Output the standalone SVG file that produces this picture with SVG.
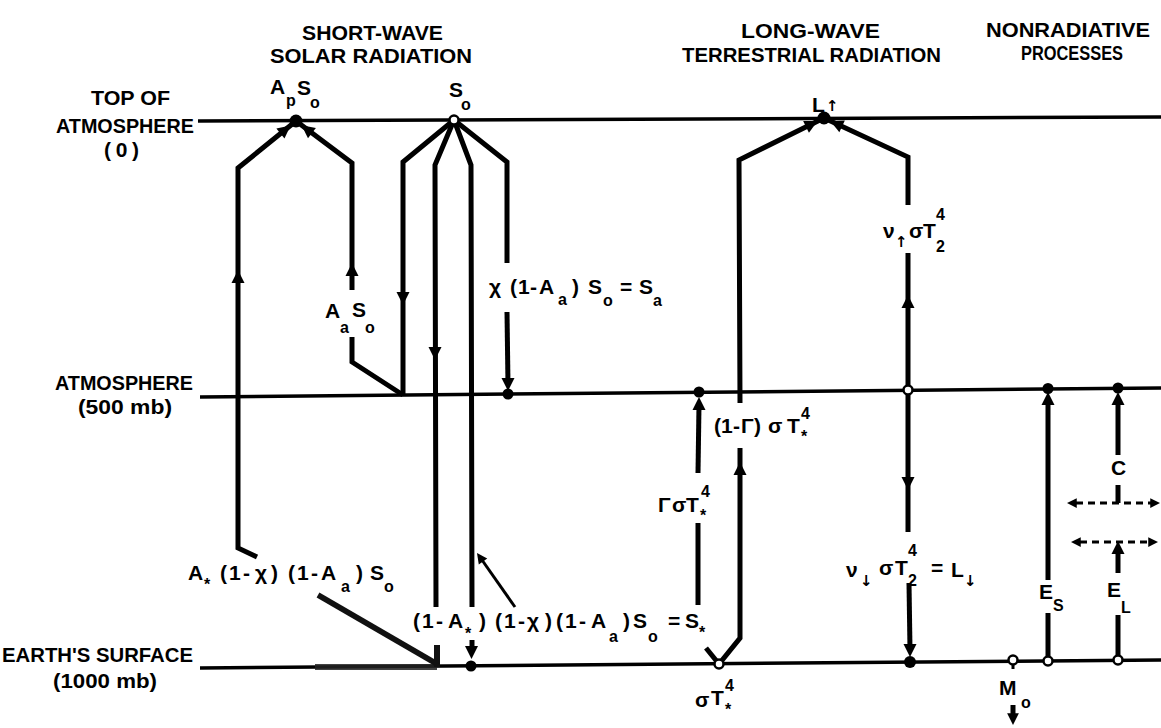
<svg xmlns="http://www.w3.org/2000/svg" xmlns:xlink="http://www.w3.org/1999/xlink" width="1161" height="728" viewBox="0 0 1161 728">
<style>
.t{font-family:"Liberation Sans",Arial,sans-serif;font-weight:bold;fill:#000}
.h{font-size:21px}
.l{font-size:21px}
.s{font-size:16px}
.a{font-family:"DejaVu Sans",sans-serif;font-size:15px;font-weight:bold;fill:#000}
.lv{stroke:#000;stroke-width:3.5;fill:none}
.p{stroke:#000;stroke-width:5;fill:none;stroke-linejoin:miter;stroke-miterlimit:10}
.thin{stroke:#000;stroke-width:3;fill:none}
.dash{stroke:#000;stroke-width:3;fill:none;stroke-dasharray:7 5}
.dot{fill:#000}
.open{fill:#fff;stroke:#000;stroke-width:2.5}
</style>
<defs>
<path id="ah" d="M0,0 L-6.5,13 L6.5,13 Z" fill="#000"/>
</defs>
<rect width="1161" height="728" fill="#fff"/>

<g id="headers">
<text class="t h" x="302" y="40" textLength="141" lengthAdjust="spacingAndGlyphs">SHORT-WAVE</text>
<text class="t h" x="270" y="63" textLength="202" lengthAdjust="spacingAndGlyphs">SOLAR RADIATION</text>
<text class="t h" x="741" y="38" textLength="139" lengthAdjust="spacingAndGlyphs">LONG-WAVE</text>
<text class="t h" x="682" y="62" textLength="259" lengthAdjust="spacingAndGlyphs">TERRESTRIAL RADIATION</text>
<text class="t h" x="986" y="37" textLength="164" lengthAdjust="spacingAndGlyphs">NONRADIATIVE</text>
<text class="t h" x="1021" y="60" textLength="102" lengthAdjust="spacingAndGlyphs">PROCESSES</text>
</g>

<g id="level-top">
<line class="lv" x1="198" y1="121" x2="1161" y2="117"/>
<text class="t h" x="91" y="105" textLength="79" lengthAdjust="spacingAndGlyphs">TOP OF</text>
<text class="t h" x="56" y="133" textLength="138" lengthAdjust="spacingAndGlyphs">ATMOSPHERE</text>
<text class="t h" x="104" y="157" textLength="35" lengthAdjust="spacing">(0)</text>
</g>

<g id="level-atmosphere">
<line class="lv" x1="200" y1="397" x2="1161" y2="388"/>
<text class="t h" x="55" y="390" textLength="138" lengthAdjust="spacingAndGlyphs">ATMOSPHERE</text>
<text class="t h" x="78" y="414" textLength="94" lengthAdjust="spacingAndGlyphs">(500 mb)</text>
</g>

<g id="level-surface">
<line class="lv" x1="200" y1="668" x2="1161" y2="660"/>
<text class="t h" x="2" y="662" textLength="191" lengthAdjust="spacingAndGlyphs">EARTH'S SURFACE</text>
<text class="t h" x="53" y="688" textLength="104" lengthAdjust="spacingAndGlyphs">(1000 mb)</text>
</g>

<g id="connectors">
<path class="p" d="M257,557 L238,548 L238,168 L296,121"/>
<use xlink:href="#ah" transform="translate(238,270)"/>
<use xlink:href="#ah" transform="translate(290.6,125.4) rotate(51.5)"/>
<path class="p" d="M403,395 L352,362 L352,337"/>
<path class="p" d="M352,290 L352,163 L296,121"/>
<use xlink:href="#ah" transform="translate(352,263)"/>
<use xlink:href="#ah" transform="translate(301.6,125.2) rotate(-52.6)"/>
<path class="p" d="M454,120 L403,162 L403,395"/>
<use xlink:href="#ah" transform="translate(403,305) rotate(180)"/>
<path class="p" d="M454,120 L435,165 L436,607"/>
<use xlink:href="#ah" transform="translate(435,360) rotate(180)"/>
<path class="p" d="M454,120 L471,165 L472,607"/>
<path class="p" d="M472,640 L472,650"/>
<use xlink:href="#ah" transform="translate(471.5,659) rotate(180)"/>
<path class="p" d="M454,120 L507,162 L507,263"/>
<path class="p" d="M507,312 L508,385"/>
<use xlink:href="#ah" transform="translate(508,391) rotate(180)"/>
<path class="thin" d="M515,607 L482,560"/>
<use xlink:href="#ah" transform="translate(477,553) rotate(-35.4) scale(0.8)"/>
<path d="M315,667 L437,667" stroke="#222" stroke-width="6" fill="none" opacity="0.85"/>
<path d="M318,595 L437,664" stroke="#111" stroke-width="5.5" fill="none"/>
<path d="M437,645 L437,667" stroke="#111" stroke-width="6" fill="none"/>
<path class="p" d="M706,648 L719,664 L740,638 L740,448"/>
<path class="p" d="M740,403 L739,160 L824,118"/>
<use xlink:href="#ah" transform="translate(740,462)"/>
<use xlink:href="#ah" transform="translate(817.7,121.1) rotate(63.7)"/>
<path class="p" d="M698,605 L698,523"/>
<path class="p" d="M698,473 L699,405"/>
<use xlink:href="#ah" transform="translate(699,397)"/>
<path class="p" d="M908,390 L908,253"/>
<path class="p" d="M908,205 L908,157 L824,118"/>
<use xlink:href="#ah" transform="translate(908,295)"/>
<use xlink:href="#ah" transform="translate(830.3,120.9) rotate(-65.1)"/>
<path class="p" d="M908,390 L908,532"/>
<use xlink:href="#ah" transform="translate(908,490) rotate(180)"/>
<path class="p" d="M909,583 L910,650"/>
<use xlink:href="#ah" transform="translate(910,657) rotate(180)"/>
<path class="thin" d="M1013,660 L1013,669"/>
<path class="p" d="M1013,705 L1013,714"/>
<use xlink:href="#ah" transform="translate(1013,725) rotate(180) scale(0.9)"/>
<path class="p" d="M1048,661 L1048,613"/>
<path class="p" d="M1048,580 L1048,400"/>
<use xlink:href="#ah" transform="translate(1048,392)"/>
<path class="p" d="M1118,660 L1118,615"/>
<path class="p" d="M1118,573 L1118,550"/>
<use xlink:href="#ah" transform="translate(1118,541)"/>
<path class="p" d="M1118,503 L1118,485"/>
<path class="p" d="M1118,455 L1118,400"/>
<use xlink:href="#ah" transform="translate(1118,392)"/>
<path class="dash" d="M1076,503 L1152,503"/>
<use xlink:href="#ah" transform="translate(1067,503) rotate(-90) scale(0.75)"/>
<use xlink:href="#ah" transform="translate(1160,503) rotate(90) scale(0.75)"/>
<path class="dash" d="M1080,542 L1150,542"/>
<use xlink:href="#ah" transform="translate(1071,542) rotate(-90) scale(0.75)"/>
<use xlink:href="#ah" transform="translate(1158,542) rotate(90) scale(0.75)"/>
</g>

<g id="node-ApSo">
<circle class="dot" cx="296" cy="121" r="6.5"/>
<text class="t l"><tspan x="270" y="94">A</tspan><tspan class="s" x="286" y="106">p</tspan><tspan x="297" y="95">S</tspan><tspan class="s" x="310" y="108">o</tspan></text>
</g>

<g id="node-So">
<circle class="open" cx="454" cy="120" r="4.5"/>
<text class="t l"><tspan x="449" y="97">S</tspan><tspan class="s" x="461" y="110">o</tspan></text>
</g>

<g id="label-AaSo">
<text class="t l"><tspan x="325" y="318">A</tspan><tspan class="s" x="340" y="333">a</tspan><tspan x="352" y="317">S</tspan><tspan class="s" x="365" y="333">o</tspan></text>
</g>

<g id="node-Sa">
<circle class="dot" cx="508" cy="394" r="5.5"/>
<text class="t l"><tspan x="489" y="294">χ</tspan><tspan x="510" y="294">(</tspan><tspan x="518" y="294">1</tspan><tspan x="530" y="294">-</tspan><tspan x="539" y="294">A</tspan><tspan class="s" x="558" y="305">a</tspan><tspan x="572" y="294">)</tspan><tspan x="588" y="294">S</tspan><tspan class="s" x="603" y="306">o</tspan><tspan x="620" y="294">=</tspan><tspan x="639" y="294">S</tspan><tspan class="s" x="653" y="306">a</tspan></text>
</g>

<g id="label-reflected-surface">
<text class="t l"><tspan x="188" y="580">A</tspan><tspan class="s" x="204" y="590">*</tspan><tspan x="220" y="580">(</tspan><tspan x="229" y="580">1</tspan><tspan x="243" y="580">-</tspan><tspan x="255" y="580">χ</tspan><tspan x="271" y="580">)</tspan><tspan x="288" y="580">(</tspan><tspan x="297" y="580">1</tspan><tspan x="311" y="580">-</tspan><tspan x="321" y="580">A</tspan><tspan class="s" x="341" y="592">a</tspan><tspan x="356" y="580">)</tspan><tspan x="370" y="580">S</tspan><tspan class="s" x="384" y="592">o</tspan></text>
</g>

<g id="node-Sstar">
<circle class="dot" cx="471" cy="666" r="5.5"/>
<text class="t l"><tspan x="413" y="628">(</tspan><tspan x="422" y="628">1</tspan><tspan x="436" y="628">-</tspan><tspan x="448" y="628">A</tspan><tspan class="s" x="465" y="639">*</tspan><tspan x="479" y="628">)</tspan><tspan x="495" y="628">(</tspan><tspan x="504" y="628">1</tspan><tspan x="518" y="628">-</tspan><tspan x="527" y="628">χ</tspan><tspan x="545" y="628">)</tspan><tspan x="556" y="628">(</tspan><tspan x="565" y="628">1</tspan><tspan x="579" y="628">-</tspan><tspan x="591" y="628">A</tspan><tspan class="s" x="609" y="642">a</tspan><tspan x="623" y="628">)</tspan><tspan x="633" y="628">S</tspan><tspan class="s" x="648" y="642">o</tspan><tspan x="668" y="628">=</tspan><tspan x="685" y="628">S</tspan><tspan class="s" x="699" y="638">*</tspan></text>
</g>

<g id="node-Lup">
<circle class="dot" cx="824" cy="118" r="6.5"/>
<text class="t l"><tspan x="812" y="112">L</tspan><tspan class="a" x="826" y="111">↑</tspan></text>
</g>

<g id="label-1-Gamma">
<text class="t l"><tspan x="714" y="433">(</tspan><tspan x="721" y="433">1</tspan><tspan x="733" y="433">-</tspan><tspan x="741" y="433">Γ</tspan><tspan x="754" y="433">)</tspan><tspan x="768" y="433">σ</tspan><tspan x="787" y="433">T</tspan><tspan class="s" x="801" y="442">*</tspan><tspan class="s" x="801" y="419">4</tspan></text>
</g>

<g id="node-Gamma">
<circle class="dot" cx="699" cy="392" r="5.5"/>
<text class="t l"><tspan x="658" y="512">Γ</tspan><tspan x="672" y="512">σ</tspan><tspan x="686" y="512">T</tspan><tspan class="s" x="700" y="521">*</tspan><tspan class="s" x="701" y="497">4</tspan></text>
</g>

<g id="node-sigmaT">
<circle class="open" cx="719" cy="664" r="4.5"/>
<text class="t l"><tspan x="695" y="707">σ</tspan><tspan x="711" y="705">T</tspan><tspan class="s" x="725" y="715">*</tspan><tspan class="s" x="725" y="691">4</tspan></text>
</g>

<g id="node-nu">
<circle class="open" cx="908" cy="390" r="4.5"/>
<text class="t l"><tspan x="883" y="238">ν</tspan><tspan class="a" x="895" y="247">↑</tspan><tspan x="909" y="238">σ</tspan><tspan x="923" y="238">T</tspan><tspan class="s" x="936" y="220">4</tspan><tspan class="s" x="936" y="252">2</tspan></text>
</g>

<g id="node-Ldown">
<circle class="dot" cx="910" cy="662" r="6"/>
<text class="t l"><tspan x="846" y="577">ν</tspan><tspan class="a" x="860" y="586">↓</tspan><tspan x="879" y="575">σ</tspan><tspan x="895" y="575">T</tspan><tspan class="s" x="908" y="556">4</tspan><tspan class="s" x="908" y="586">2</tspan><tspan x="931" y="575">=</tspan><tspan x="951" y="577">L</tspan><tspan class="a" x="964" y="586">↓</tspan></text>
</g>

<g id="node-Mo">
<circle class="open" cx="1013" cy="660" r="4.5"/>
<text class="t l"><tspan x="999" y="695">M</tspan><tspan class="s" x="1021" y="708">o</tspan></text>
</g>

<g id="node-Es">
<circle class="dot" cx="1048" cy="388.5" r="5.5"/>
<circle class="open" cx="1048" cy="661" r="4.5"/>
<text class="t l"><tspan x="1039" y="599">E</tspan><tspan class="s" x="1053" y="611">S</tspan></text>
</g>

<g id="node-EL-C">
<circle class="dot" cx="1118" cy="388" r="5.5"/>
<circle class="open" cx="1118" cy="660" r="4.5"/>
<text class="t l"><tspan x="1107" y="597">E</tspan><tspan class="s" x="1121" y="613">L</tspan></text>
<text class="t l" x="1111" y="475">C</text>
</g>
</svg>
